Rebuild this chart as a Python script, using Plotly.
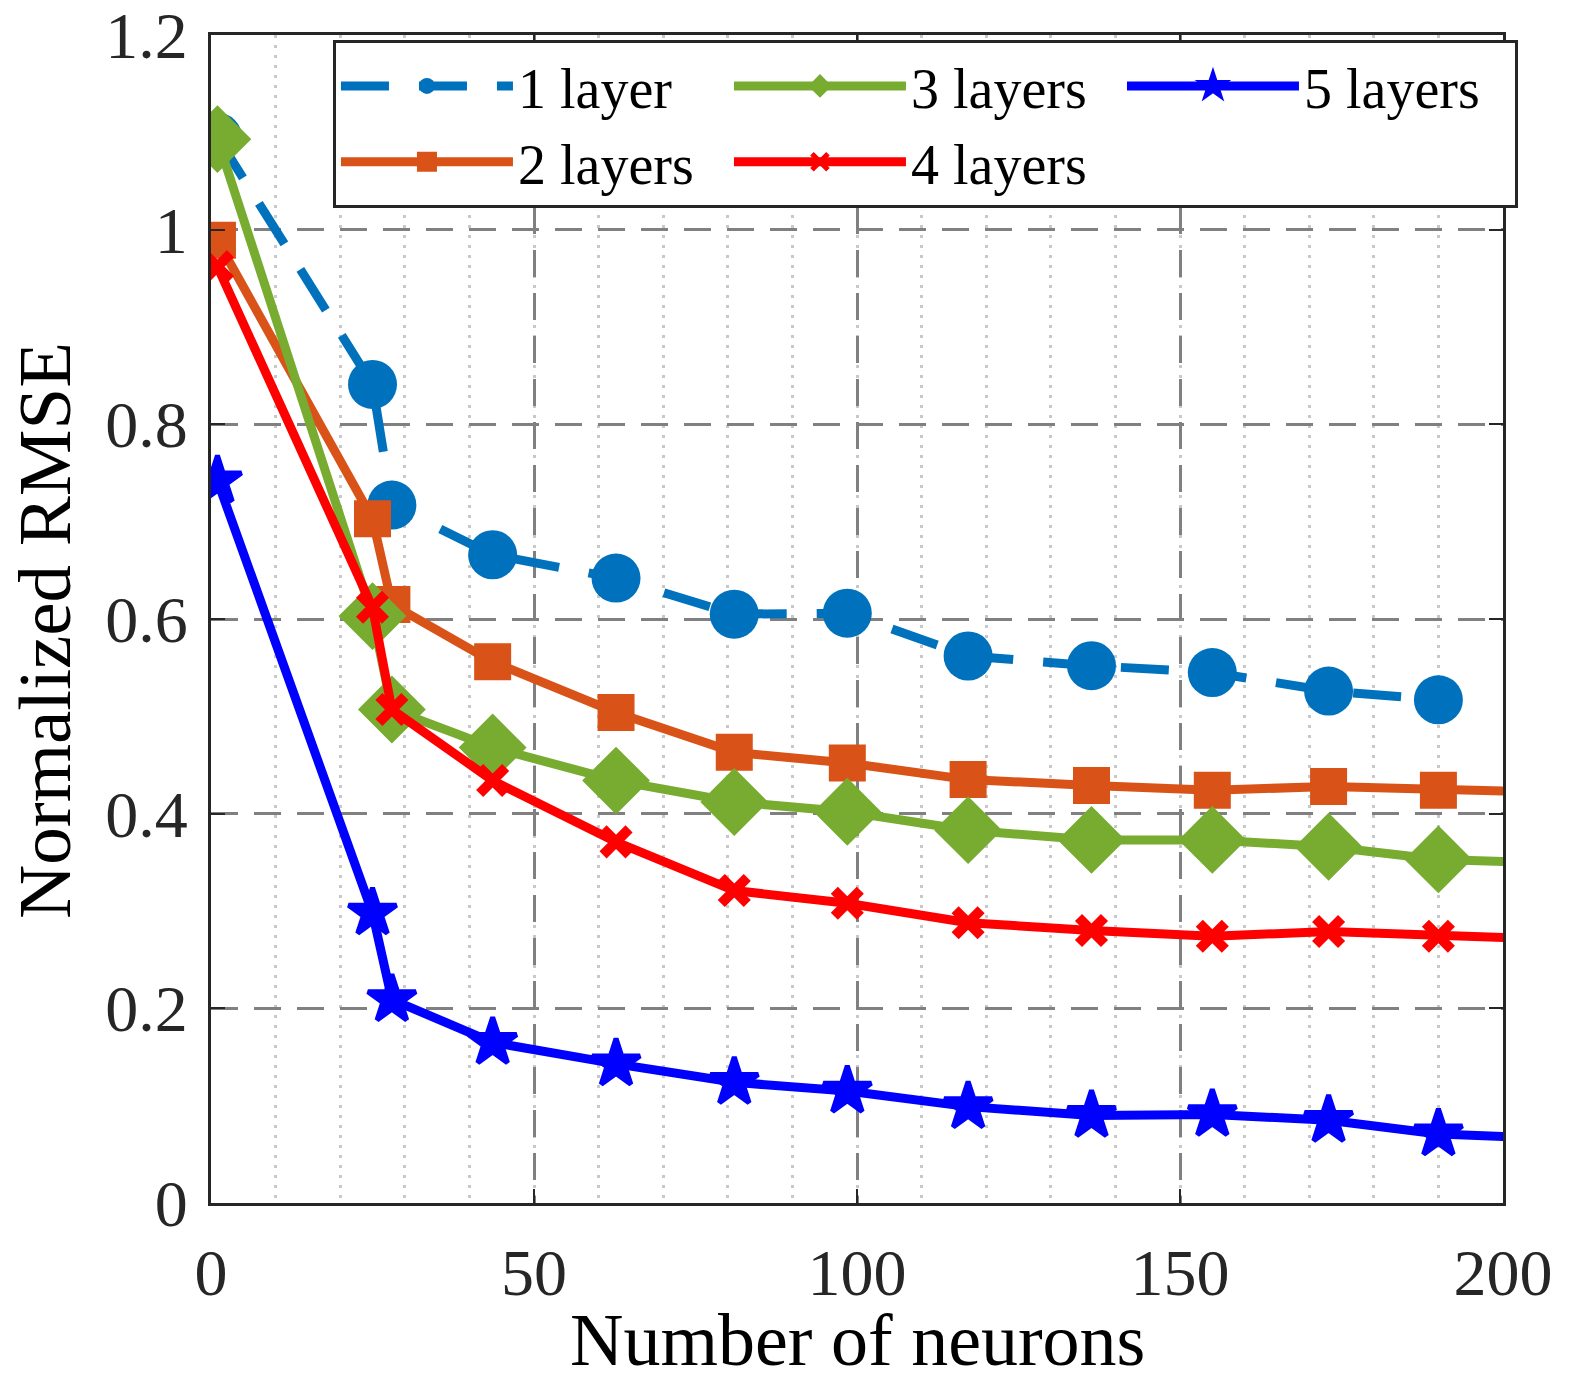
import plotly.graph_objects as go

# ---- data ----
neurons = [1, 25, 28, 43.6, 62.7, 81, 98.5, 117.2, 136.3, 155, 173, 190]
neurons_ext = neurons + [208]  # last sample lies beyond the visible x-range

rmse_1 = [1.095, 0.841, 0.717, 0.666, 0.642, 0.605, 0.606, 0.562, 0.552, 0.545, 0.526, 0.517]
rmse_2 = [0.989, 0.703, 0.615, 0.556, 0.504, 0.463, 0.452, 0.435, 0.429, 0.424, 0.428, 0.424, 0.422]
rmse_3 = [1.093, 0.603, 0.507, 0.468, 0.434, 0.412, 0.402, 0.383, 0.373, 0.373, 0.366, 0.353, 0.349]
rmse_4 = [0.962, 0.612, 0.507, 0.434, 0.371, 0.321, 0.308, 0.288, 0.280, 0.274, 0.279, 0.274, 0.271]
rmse_5 = [0.742, 0.298, 0.209, 0.165, 0.143, 0.124, 0.115, 0.099, 0.090, 0.091, 0.085, 0.071, 0.066]

labels = ["1 layer", "2 layers", "3 layers", "4 layers", "5 layers"]
x_ticks = [0, 50, 100, 150, 200]
y_ticks = [0, 0.2, 0.4, 0.6, 0.8, 1.0, 1.2]
y_ticklabels = ["0", "0.2", "0.4", "0.6", "0.8", "1", "1.2"]
x_title = "Number of neurons"
y_title = "Normalized RMSE"

FONT = "Liberation Serif, Times New Roman, serif"
AX = "#262626"

fig = go.Figure()

fig.add_trace(go.Scatter(
    x=neurons, y=rmse_1, name=labels[0], mode="lines+markers", legendrank=1,
    line=dict(color="#0072BD", width=9, dash="48px,30px"),
    marker=dict(symbol="circle", size=49, color="#0072BD", line=dict(width=0)),
))
fig.add_trace(go.Scatter(
    x=neurons_ext, y=rmse_2, name=labels[1], mode="lines+markers", legendrank=4,
    line=dict(color="#D95319", width=9),
    marker=dict(symbol="square", size=33, color="#D95319", line=dict(width=4, color="#D95319")),
))
fig.add_trace(go.Scatter(
    x=neurons_ext, y=rmse_3, name=labels[2], mode="lines+markers", legendrank=2,
    line=dict(color="#77AC30", width=9),
    marker=dict(symbol="diamond", size=50, color="#77AC30", line=dict(width=2, color="#77AC30")),
))
fig.add_trace(go.Scatter(
    x=neurons_ext, y=rmse_4, name=labels[3], mode="lines+markers", legendrank=5,
    line=dict(color="#FF0000", width=9),
    marker=dict(symbol="x-thin", size=26, color="#FF0000", line=dict(width=10, color="#FF0000")),
))
fig.add_trace(go.Scatter(
    x=neurons_ext, y=rmse_5, name=labels[4], mode="lines+markers", legendrank=3,
    line=dict(color="#0000FF", width=9),
    marker=dict(symbol="star", size=36, color="#0000FF", line=dict(width=5, color="#0000FF")),
))

fig.update_layout(
    width=1559, height=1368,
    margin=dict(l=203, r=64, t=27, b=173, autoexpand=False),
    paper_bgcolor="white", plot_bgcolor="white",
    font=dict(family=FONT, size=64, color="black"),
    showlegend=True,
    legend=dict(
        orientation="h", x=0.0944, y=0.9957, xanchor="left", yanchor="top",
        bgcolor="white", bordercolor=AX, borderwidth=3,
        font=dict(family=FONT, size=56, color="black"),
        itemwidth=172, entrywidth=206, traceorder="normal",
        itemsizing="trace",
    ),
    xaxis=dict(
        range=[0, 200], tickvals=x_ticks, ticktext=[str(v) for v in x_ticks],
        automargin=False, ticklabeloverflow="allow",
        showline=True, linecolor=AX, linewidth=3, mirror="ticks",
        ticks="inside", ticklen=14, tickwidth=2, tickcolor=AX,
        showgrid=True, gridcolor="#808080", gridwidth=3, griddash="27px,16px",
        minor=dict(dtick=10, tick0=0, showgrid=True, gridcolor="#c8c8c8", gridwidth=3,
                   griddash="3px,7px", ticks=""),
        zeroline=False,
        tickfont=dict(family=FONT, size=66, color=AX),
        ticklabelstandoff=10,
    ),
    yaxis=dict(
        range=[0, 1.2], tickvals=y_ticks, ticktext=y_ticklabels,
        automargin=False, ticklabeloverflow="allow",
        showline=True, linecolor=AX, linewidth=3, mirror="ticks",
        ticks="inside", ticklen=14, tickwidth=2, tickcolor=AX,
        showgrid=True, gridcolor="#808080", gridwidth=3, griddash="27px,16px",
        zeroline=False,
        tickfont=dict(family=FONT, size=66, color=AX),
        ticklabelstandoff=7,
    ),
    annotations=[
        dict(text=x_title, xref="paper", yref="paper", x=0.5, y=-0.1173,
             xanchor="center", yanchor="middle", showarrow=False,
             font=dict(family=FONT, size=74, color="black")),
        dict(text=y_title, xref="paper", yref="paper", x=-0.1285, y=0.4906,
             xanchor="center", yanchor="middle", showarrow=False, textangle=-90,
             font=dict(family=FONT, size=75, color="black")),
    ],
)

fig.write_html("out.html")
